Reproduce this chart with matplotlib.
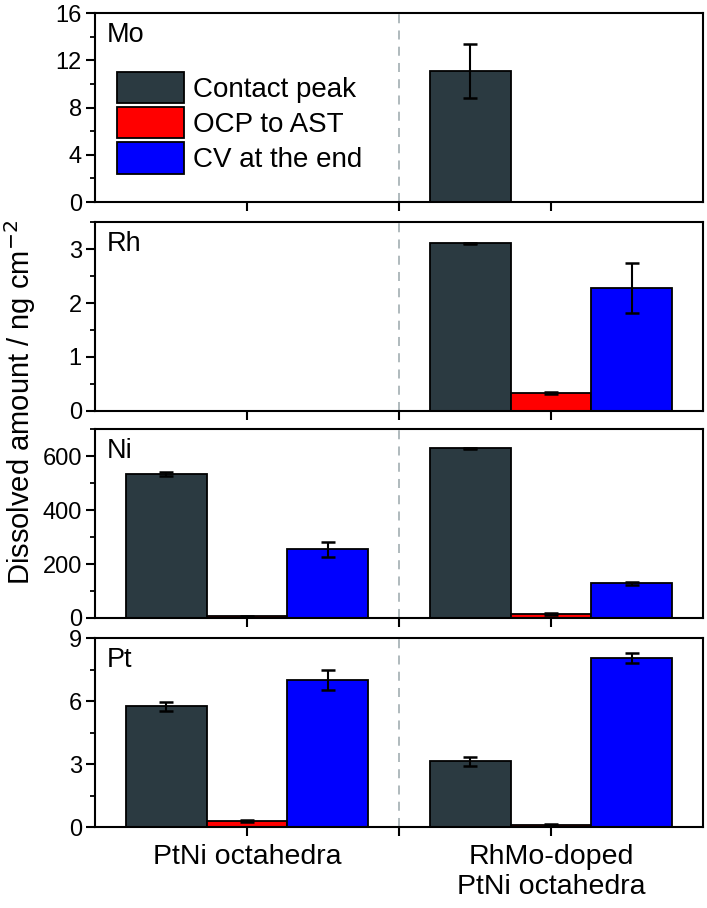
import numpy as np
import matplotlib.pyplot as plt
from matplotlib.patches import Patch
from matplotlib.ticker import MultipleLocator

plt.rcParams['font.family'] = ['Liberation Sans', 'DejaVu Sans']

# Data
groups = ["PtNi octahedra", "RhMo-doped\nPtNi octahedra"]
series = ["Contact peak", "OCP to AST", "CV at the end"]
colors = ["#2b3a41", "#ff0000", "#0000ff"]

elements = ["Mo", "Rh", "Ni", "Pt"]

# values[element] -> [series][group]
mo_vals = [[0, 11.1], [0, 0], [0, 0]]
mo_errs = [[0, 2.3], [0, 0], [0, 0]]
rh_vals = [[0, 3.11], [0, 0.34], [0, 2.28]]
rh_errs = [[0, 0.01], [0, 0.02], [0, 0.46]]
ni_vals = [[535, 629], [6, 15], [254, 128]]
ni_errs = [[7, 2], [3, 3], [28, 6]]
pt_vals = [[5.76, 3.14], [0.30, 0.10], [7.0, 8.05]]
pt_errs = [[0.21, 0.21], [0.05, 0.03], [0.47, 0.23]]

vals = [mo_vals, rh_vals, ni_vals, pt_vals]
errs = [mo_errs, rh_errs, ni_errs, pt_errs]
ylims = [16, 3.5, 700, 9]
major = [4, 1, 200, 3]

fig = plt.figure(figsize=(7.07, 9.08), dpi=100)
bottoms = [0.7775, 0.5474, 0.3194, 0.0892]
height = 0.208
left, width = 0.1344, 0.86

centers = np.array([1, 3])
bw = 0.53

for i, el in enumerate(elements):
    ax = fig.add_axes([left, bottoms[i], width, height])
    for s in range(3):
        x = centers + (s - 1) * bw
        v = np.array(vals[i][s], dtype=float)
        e = np.array(errs[i][s], dtype=float)
        mask = v > 0
        ax.bar(x[mask], v[mask], width=bw, color=colors[s], edgecolor="black",
               linewidth=1.3, zorder=2)
        ax.errorbar(x[mask], v[mask], yerr=e[mask], fmt="none", ecolor="black",
                    elinewidth=1.5, capsize=4.7, capthick=1.8, zorder=3)
    ax.axvline(2, color="#a9b4b8", linestyle=(0, (5, 4)), linewidth=1.3, zorder=1)
    ax.set_xlim(0, 4)
    ax.set_ylim(0, ylims[i])
    ax.yaxis.set_major_locator(MultipleLocator(major[i]))
    ax.yaxis.set_minor_locator(MultipleLocator(major[i] / 2))
    ax.set_xticks([1, 2, 3])
    ax.tick_params(axis="both", which="major", direction="out", length=6.5, width=1.5)
    ax.tick_params(axis="y", which="major", labelsize=17, pad=3)
    ax.tick_params(axis="y", which="minor", direction="out", length=3.5, width=1.3)
    ax.tick_params(axis="x", labelsize=20.5, pad=6)
    if i == 3:
        ax.set_xticklabels([groups[0], "", groups[1]])
    else:
        ax.set_xticklabels([])
    for sp in ax.spines.values():
        sp.set_linewidth(1.5)
    ax.text(0.02, 0.955, el, transform=ax.transAxes, fontsize=19.5, va="top", ha="left")
    if i == 0:
        handles = [Patch(facecolor=c, edgecolor="black", linewidth=1.3) for c in colors]
        ax.legend(handles, series, loc="upper left", bbox_to_anchor=(0.036, 0.69),
                  frameon=False, fontsize=20, borderpad=0, handlelength=2.4,
                  handleheight=1.35, labelspacing=0.15, handletextpad=0.33,
                  borderaxespad=0)

fig.text(0.028, 0.557, "Dissolved amount / ng cm$^{-2}$", rotation=90, va="center",
         ha="center", fontsize=21)

fig.savefig("out.png", dpi=100)
